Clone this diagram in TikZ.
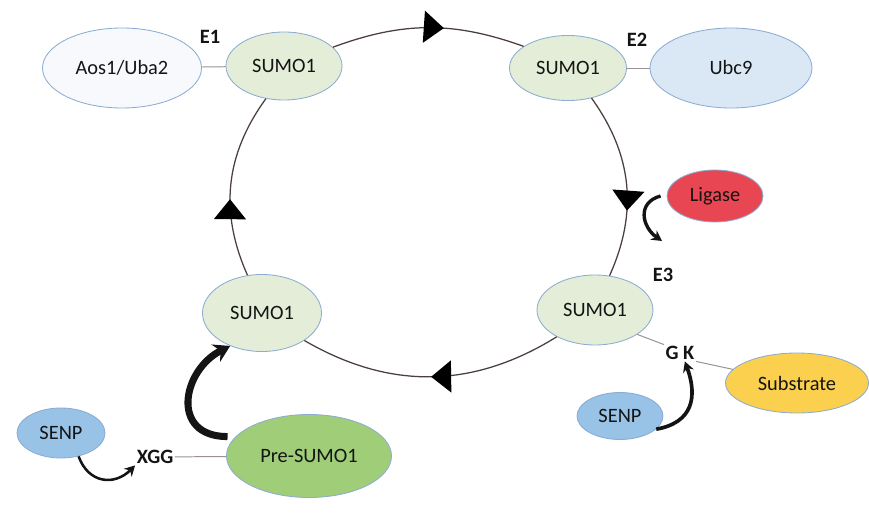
\documentclass[tikz,border=0pt]{standalone}
\usepackage{fontspec}
\setmainfont{Carlito}
\usepackage{tikz}
\usetikzlibrary{shapes.geometric, arrows.meta, positioning, decorations.markings}
\usepackage{xcolor}
\definecolor{edgeblue}{RGB}{140,172,210}
\definecolor{sumofill}{RGB}{228,237,215}
\definecolor{aosfill}{RGB}{247,249,252}
\definecolor{ubcfill}{RGB}{218,232,246}
\definecolor{ligfill}{RGB}{232,70,82}
\definecolor{subfill}{RGB}{250,208,78}
\definecolor{senpfill}{RGB}{152,194,230}
\definecolor{prefill}{RGB}{160,205,120}
\definecolor{cycle}{RGB}{75,62,62}
\definecolor{linkgray}{RGB}{155,145,145}
\definecolor{dark}{RGB}{20,20,20}

\begin{document}
\begin{tikzpicture}[
    prot/.style={ellipse, draw=edgeblue, line width=0.6pt, inner sep=0pt, text=dark, font=\fontsize{14.5}{17}\selectfont},
    sumo/.style={prot, fill=sumofill, minimum width=2.9cm, minimum height=1.7cm},
    tag/.style={font=\fontsize{14.5}{17}\selectfont\bfseries, text=dark, inner sep=1pt},
    link/.style={draw=linkgray, line width=0.7pt},
    cyc/.style={draw=cycle, line width=0.9pt, postaction={decorate}},
    mid/.style={decoration={markings, mark=at position #1 with {\arrow[black]{Triangle[length=5mm, width=8mm]}}}},
    arr/.style={-{Stealth[length=2.6mm, width=2.8mm]}, line width=2.4pt, dark},
]
\useasboundingbox (0,0) rectangle (21.725,12.925);

% SUMO1 states on the cycle
\node[sumo] (sumoA) at (7.10,11.275) {SUMO1};
\node[sumo, minimum width=2.925cm, minimum height=1.625cm] (sumoB) at (14.2,11.225) {SUMO1};
\node[sumo, minimum height=1.75cm] (sumoC) at (14.875,5.175) {SUMO1};
\node[sumo, minimum width=2.975cm, minimum height=1.925cm] (sumoD) at (6.55,5.1) {SUMO1};

% Partners
\node[prot, fill=aosfill, minimum width=3.975cm, minimum height=2cm] (aos) at (3.05,11.225) {Aos1/Uba2};
\node[prot, fill=ubcfill, minimum width=4.05cm, minimum height=2cm] (ubc) at (18.275,11.225) {Ubc9};
\node[prot, fill=ligfill, minimum width=2.4cm, minimum height=1.3cm] (ligase) at (17.875,8.025) {Ligase};
\node[prot, fill=prefill, minimum width=4.125cm, minimum height=2.075cm] (pre) at (7.725,1.525) {Pre-SUMO1};
\node[prot, fill=senpfill, minimum width=2.2cm, minimum height=1.25cm] (senpA) at (1.525,2.1) {SENP};
\node[prot, fill=senpfill, minimum width=2.15cm, minimum height=1.175cm] (senpB) at (15.5,2.525) {SENP};
\node[prot, fill=subfill, minimum width=3.575cm, minimum height=1.5cm] (sub) at (19.925,3.35) {Substrate};

% Labels
\node[tag] (e1) at (5.25,12.0) {E1};
\node[tag] (e2) at (15.925,11.925) {E2};
\node[tag] (e3) at (16.575,6.05) {E3};
\node[tag] (xgg) at (3.875,1.5) {XGG};
\node[tag] (gk) at (17.0,4.1) {G K};

% Cycle
\draw[cyc, mid=0.58] (sumoA.21) to[bend left=20] (sumoB.154);
\draw[cyc, mid=0.64] (sumoB.-52) to[bend left=30] (sumoC.67);
\draw[cyc, mid=0.5] (sumoC.-145) to[bend left=31] (sumoD.-33);
\draw[cyc, mid=0.42] (sumoD.111) to[bend left=30] (sumoA.-119);

% Links
\draw[link] (aos) -- (sumoA);
\draw[link] (sumoB) -- (ubc);
\draw[link] (xgg) -- (pre);
\draw[link] (sumoC.-30) -- (gk.north west);
\draw[link] (gk.south east) -- (sub.168);

% Arrows
\coordinate (ligEnd) at (16.55,6.9);
\draw[arr] (ligase.west) ++(-0.15,0) to[out=195, in=145, looseness=1.4] (ligEnd);
\draw[arr, line width=5pt, -{Stealth[length=4mm, width=4.8mm]}] (pre.167) ++(-0.15,0.05) .. controls +(-1.45,0) and +(-1.2,-0.6) .. (sumoD.-134);
\draw[arr, line width=1.8pt] (senpA.-53) to[out=-70, in=-135, looseness=1.3] (xgg.south west);
\draw[arr, line width=2.6pt] (senpB.-20) to[out=10, in=-70, looseness=1.3] (gk.-60);

\end{tikzpicture}
\end{document}
